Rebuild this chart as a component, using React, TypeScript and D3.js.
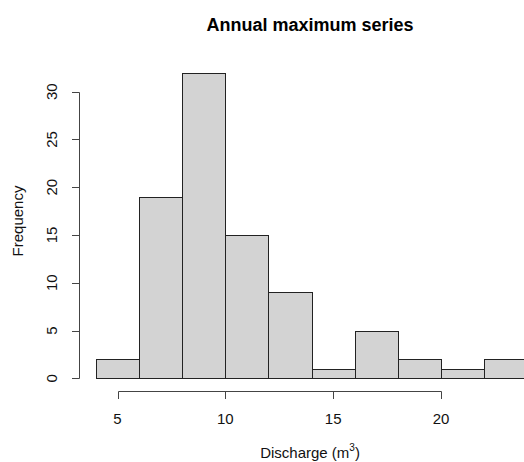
import React from 'react'
import * as d3 from 'd3'

const binEdges = [4, 6, 8, 10, 12, 14, 16, 18, 20, 22, 24]
const counts = [2, 19, 32, 15, 9, 1, 5, 2, 1, 2]
const xTicks = [5, 10, 15, 20]
const yTicks = [0, 5, 10, 15, 20, 25, 30]

const W = 524
const H = 462

export default function App () {
  const x = d3.scaleLinear().domain([5, 20]).range([117.5, 441])
  const y = d3.scaleLinear().domain([0, 30]).range([378.3, 91.7])
  const font = '"Liberation Sans", Arial, sans-serif'
  const axisColor = '#444'
  const px = (v: number) => Math.round(v) + 0.5

  return (
    <svg width={W} height={H} style={{ position: 'absolute', left: 0, top: 0, background: '#fff' }} fontFamily={font}>
      <text x={310} y={31} textAnchor='middle' fontSize={18} fontWeight='bold'>Annual maximum series</text>

      {/* bars */}
      {counts.map((c, i) => (
        <rect key={i}
          x={px(x(binEdges[i]))}
          y={px(y(c))}
          width={Math.round(x(binEdges[i + 1])) - Math.round(x(binEdges[i]))}
          height={Math.round(y(0)) - Math.round(y(c))}
          fill='#d3d3d3' stroke='#222' strokeWidth={1} />
      ))}

      {/* x axis */}
      <g stroke={axisColor} fill='none'>
        <line x1={px(x(5))} x2={px(x(20))} y1={391.5} y2={391.5} />
        {xTicks.map(t => (
          <line key={t} x1={px(x(t))} x2={px(x(t))} y1={391.5} y2={399} />
        ))}
      </g>
      {xTicks.map(t => (
        <text key={t} x={x(t)} y={424} textAnchor='middle' fontSize={15} fill='#111'>{t}</text>
      ))}
      <text x={310} y={458} textAnchor='middle' fontSize={15} fill='#111'>
        Discharge (m<tspan dy={-7} fontSize={10}>3</tspan><tspan dy={7}>)</tspan>
      </text>

      {/* y axis */}
      <g stroke={axisColor} fill='none'>
        <line x1={79.5} x2={79.5} y1={px(y(0))} y2={px(y(30))} />
        {yTicks.map(t => (
          <line key={t} x1={72} x2={79.5} y1={px(y(t))} y2={px(y(t))} />
        ))}
      </g>
      {yTicks.map(t => (
        <text key={t} transform={`translate(57,${y(t)}) rotate(-90)`} textAnchor='middle' fontSize={15} fill='#111'>{t}</text>
      ))}
      <text transform='translate(23,221) rotate(-90)' textAnchor='middle' fontSize={15} fill='#111'>Frequency</text>
    </svg>
  )
}
